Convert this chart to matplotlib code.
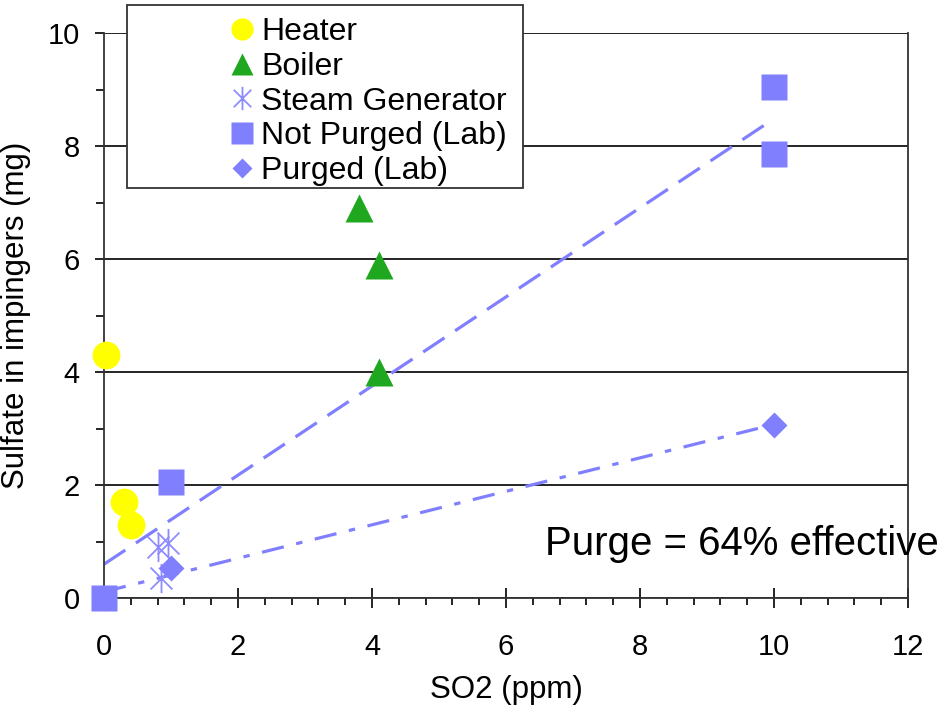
import numpy as np
import matplotlib.pyplot as plt
from matplotlib.path import Path
from matplotlib.patches import Rectangle
from matplotlib.ticker import MultipleLocator

plt.rcParams['font.family'] = ['Liberation Sans', 'DejaVu Sans']

# SO2 (ppm) vs sulfate collected in impingers (mg)
heater_x = [0.03, 0.3, 0.4]
heater_y = [4.3, 1.7, 1.3]
boiler_x = [3.8, 4.1, 4.1]
boiler_y = [6.9, 5.9, 4.0]
steam_x = [0.8, 0.95, 0.85]
steam_y = [0.9, 0.97, 0.35]
notpurged_x = [0, 1.0, 10, 10]
notpurged_y = [0, 2.05, 9.05, 7.85]
purged_x = [0, 1.0, 10]
purged_y = [0, 0.53, 3.06]
purge_note = 'Purge = 64% effective'

yellow = '#FFFF00'
green = '#1FA81F'
blue = '#8080FF'

# asterisk made of a vertical bar and an X
ast = Path([(0, -1), (0, 1), (-0.75, -0.75), (0.75, 0.75), (-0.75, 0.75), (0.75, -0.75)],
           [Path.MOVETO, Path.LINETO] * 3)

fig = plt.figure(figsize=(9.4, 7.15), dpi=100)
ax = fig.add_axes([104 / 940, 1 - 598 / 715, 804 / 940, 565 / 715])

# least-squares trend lines for the lab runs
xs = np.array([0, 10])
p_np = np.polyfit(notpurged_x, notpurged_y, 1)
p_pu = np.polyfit(purged_x, purged_y, 1)
ax.plot(xs, np.polyval(p_np, xs), color=blue, lw=2.3, dashes=(8, 4), zorder=2)
ax.plot(xs, np.polyval(p_pu, xs), color=blue, lw=2.3, dashes=(7, 4, 2, 4), zorder=2)

h1, = ax.plot(heater_x, heater_y, 'o', ms=20, color=yellow, mec='none', clip_on=False, zorder=3)
h2, = ax.plot(boiler_x, boiler_y, '^', ms=20, color=green, mec='none', clip_on=False, zorder=3)
h3, = ax.plot(steam_x, steam_y, ls='none', marker=ast, ms=21, mew=1.3, mec='#8C8CFF', mfc='none',
              clip_on=False, zorder=3)
h4, = ax.plot(notpurged_x, notpurged_y, 's', ms=19, color=blue, mec='none', clip_on=False, zorder=3)
h5, = ax.plot(purged_x, purged_y, 'D', ms=13, color=blue, mec='none', clip_on=False, zorder=3)

ax.set_xlim(0, 12)
ax.set_ylim(0, 10)
ax.xaxis.set_major_locator(MultipleLocator(2))
ax.xaxis.set_minor_locator(MultipleLocator(0.4))
ax.yaxis.set_major_locator(MultipleLocator(2))
ax.yaxis.set_minor_locator(MultipleLocator(1))
ax.yaxis.grid(True, which='major', color='black', lw=1.2)
ax.set_axisbelow(True)

ax.spines['top'].set_visible(False)
for s in ['left', 'right', 'bottom']:
    ax.spines[s].set_color('#333333')
    ax.spines[s].set_linewidth(1.3)

ax.tick_params(axis='x', which='major', direction='inout', length=14, width=1.2, pad=18, labelsize=21)
ax.tick_params(axis='x', which='minor', direction='out', length=5, width=1.2)
ax.tick_params(axis='y', which='major', direction='out', length=6.5, width=1.2, pad=11, labelsize=21)
ax.tick_params(axis='y', which='minor', direction='out', length=6, width=1.2)

ax.set_xlabel('SO2 (ppm)', fontsize=22.5, labelpad=10)
ax.set_ylabel('Sulfate in impingers (mg)', fontsize=22.5, labelpad=12)

ax.text(6.58, 0.76, purge_note, fontsize=29, va='baseline', clip_on=False)

# legend box sits partly above the plot area
fig.add_artist(Rectangle((127 / 940, 1 - 188 / 715), 396 / 940, 183 / 715,
                         transform=fig.transFigure, facecolor='white',
                         edgecolor='#333333', lw=1.3, zorder=3))
fig.legend([h1, h2, h3, h4, h5],
           ['Heater', 'Boiler', 'Steam Generator', 'Not Purged (Lab)', 'Purged (Lab)'],
           loc='upper left', bbox_to_anchor=(213 / 940, 1 - 1 / 715), frameon=False,
           fontsize=23, borderpad=0, handlelength=0.8, handletextpad=0.2,
           labelspacing=0.15, markerscale=0.8)

fig.savefig('out.png', dpi=100)
